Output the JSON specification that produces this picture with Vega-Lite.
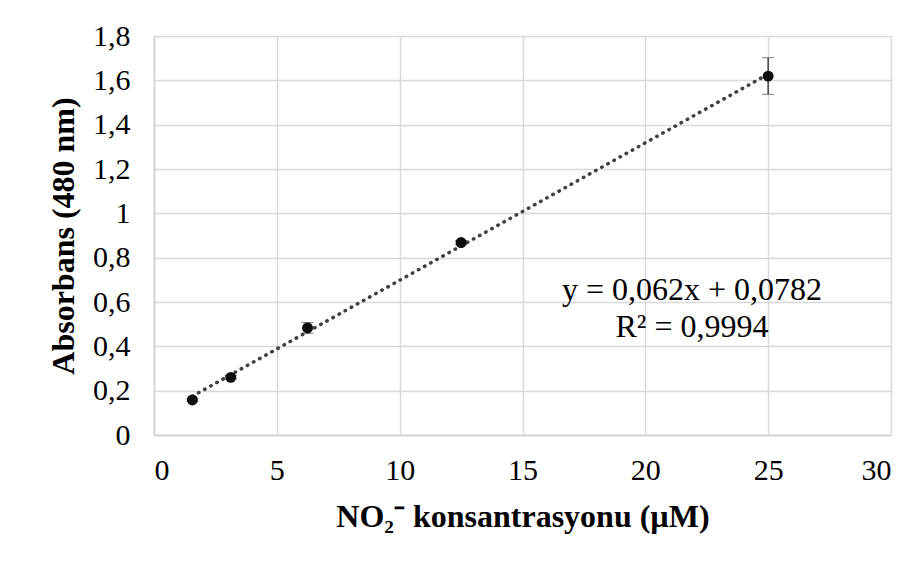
{
  "$schema": "https://vega.github.io/schema/vega-lite/v6.json",
  "width": 737,
  "height": 399,
  "autosize": {"type": "none"},
  "padding": {"left": 154, "top": 36, "right": 32, "bottom": 128},
  "background": "white",
  "config": {
    "view": {"stroke": null},
    "font": "Liberation Serif",
    "axis": {
      "grid": true,
      "gridColor": "#d9d9d9",
      "gridWidth": 1.5,
      "domainColor": "#d0d0d0",
      "domainWidth": 1.5,
      "ticks": false,
      "labelFont": "Liberation Serif",
      "labelFontSize": 30,
      "labelColor": "#000000",
      "titleFont": "Liberation Serif",
      "titleFontSize": 32,
      "titleFontWeight": "bold",
      "titleColor": "#000000"
    }
  },
  "datasets": {
    "points": [
      {"conc": 1.5625, "abs": 0.158, "lo": 0.153, "hi": 0.163},
      {"conc": 3.125, "abs": 0.26, "lo": 0.252, "hi": 0.268},
      {"conc": 6.25, "abs": 0.483, "lo": 0.459, "hi": 0.507},
      {"conc": 12.5, "abs": 0.868, "lo": 0.858, "hi": 0.878},
      {"conc": 25, "abs": 1.619, "lo": 1.537, "hi": 1.702}
    ],
    "trend": [
      {"conc": 1.5625, "abs": 0.175},
      {"conc": 25, "abs": 1.628}
    ],
    "eq": [
      {"conc": 21.9, "abs": 0.654, "label": "y = 0,062x + 0,0782"},
      {"conc": 21.9, "abs": 0.487, "label": "R² = 0,9994"}
    ]
  },
  "layer": [
    {
      "data": {"name": "trend"},
      "mark": {"type": "line", "color": "#404040", "strokeWidth": 3.5, "strokeDash": [0.5, 6.5], "strokeCap": "round"},
      "encoding": {
        "x": {"field": "conc", "type": "quantitative", "scale": {"domain": [0, 30], "nice": false},
              "title": "NO₂⁻ konsantrasyonu (µM)",
              "axis": {"values": [0, 5, 10, 15, 20, 25, 30], "labelPadding": 20, "titlePadding": 16}},
        "y": {"field": "abs", "type": "quantitative", "scale": {"domain": [0, 1.8], "nice": false},
              "title": "Absorbans (480 nm)",
              "axis": {"values": [0, 0.2, 0.4, 0.6, 0.8, 1, 1.2, 1.4, 1.6, 1.8], "labelExpr": "replace(format(datum.value, '~g'), '.', ',')", "labelPadding": 24, "titlePadding": 12}}
      }
    },
    {
      "data": {"name": "points"},
      "mark": {"type": "errorbar", "ticks": {"size": 12, "color": "#404040", "strokeWidth": 1.5}, "rule": {"color": "#404040", "strokeWidth": 1.5}},
      "encoding": {
        "x": {"field": "conc", "type": "quantitative", "title": "NO₂⁻ konsantrasyonu (µM)"},
        "y": {"field": "lo", "type": "quantitative", "title": "Absorbans (480 nm)"},
        "y2": {"field": "hi"}
      }
    },
    {
      "data": {"name": "points"},
      "mark": {"type": "point", "filled": true, "shape": "circle", "size": 120, "color": "#0d0d0d", "opacity": 1},
      "encoding": {
        "x": {"field": "conc", "type": "quantitative", "title": "NO₂⁻ konsantrasyonu (µM)"},
        "y": {"field": "abs", "type": "quantitative", "title": "Absorbans (480 nm)"}
      }
    },
    {
      "data": {"name": "eq"},
      "mark": {"type": "text", "font": "Liberation Serif", "fontSize": 32, "color": "#000000", "align": "center", "baseline": "middle"},
      "encoding": {
        "x": {"field": "conc", "type": "quantitative", "title": "NO₂⁻ konsantrasyonu (µM)"},
        "y": {"field": "abs", "type": "quantitative", "title": "Absorbans (480 nm)"},
        "text": {"field": "label"}
      }
    }
  ]
}
